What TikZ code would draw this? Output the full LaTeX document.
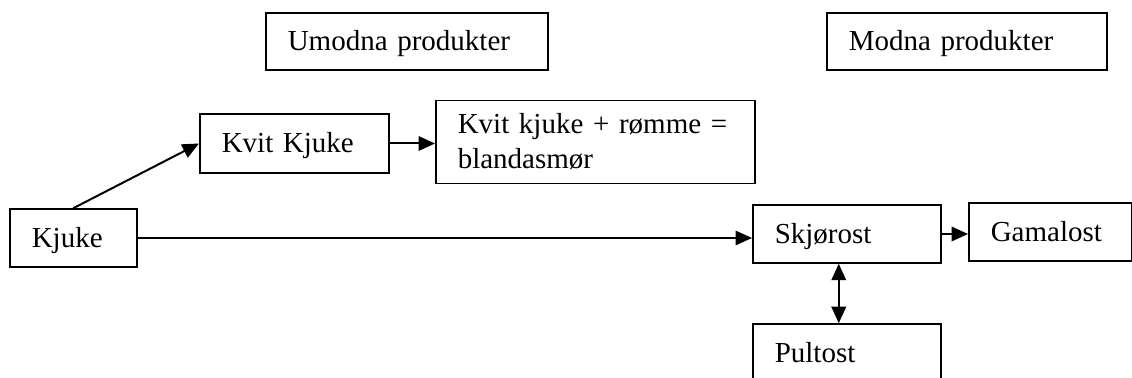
\documentclass[tikz,border=0pt]{standalone}
\usepackage{fontspec}
\setmainfont{Liberation Serif}
\usetikzlibrary{arrows.meta}

\begin{document}
\begin{tikzpicture}[x=0.4pt, y=-0.4pt,
    box/.style={draw, line width=0.6pt, anchor=west, align=left,
      inner xsep=8.8pt, inner ysep=0pt, minimum height=23.2pt,
      font=\fontsize{11.6}{14}\selectfont},
    oneline/.style={box, text height=9.8pt, text depth=2.4pt},
    link/.style={line width=0.8pt, -{Triangle[length=6.6pt, width=5.8pt]}},
    twoway/.style={line width=0.8pt, {Triangle[length=6.6pt, width=5.8pt]}-{Triangle[length=6.6pt, width=5.8pt]}}]
  \useasboundingbox (0,0) rectangle (1132,378);
  % headings
  \node[oneline, text width=95.2pt, minimum height=22.8pt] (umodna) at (265,41.5) {Umodna produkter};
  \node[oneline, text width=94.4pt, minimum height=22.8pt] (modna) at (826,41.5) {Modna produkter};

  % products
  \node[oneline, text width=33.2pt] (kjuke) at (9,238) {Kjuke};
  \node[oneline, text width=58pt, minimum height=23.6pt] (kvitkjuke) at (199,143.5) {Kvit Kjuke};
  \node[box, text width=110pt, minimum height=33.2pt] (blanda) at (435,142)
    {Kvit kjuke + rømme =\\blandasmør};
  \node[oneline, text width=57.6pt] (skjorost) at (752,234) {Skjørost};
  \node[oneline, text width=47.6pt] (gamalost) at (968,232) {Gamalost};
  \node[oneline, text width=57.6pt] (pultost) at (752,353) {Pultost};

  \draw[link] (kjuke.north) -- (kvitkjuke.west);
  \draw[link] (kvitkjuke.east) -- (kvitkjuke.east -| blanda.west);
  \draw[link, line width=0.6pt] (kjuke.east) -- (kjuke.east -| skjorost.west);
  \draw[link] (skjorost.east) -- (skjorost.east -| gamalost.west);
  \draw[twoway] ([xshift=-3.2pt]skjorost.south) -- ([xshift=-3.2pt]pultost.north);
\end{tikzpicture}
\end{document}
